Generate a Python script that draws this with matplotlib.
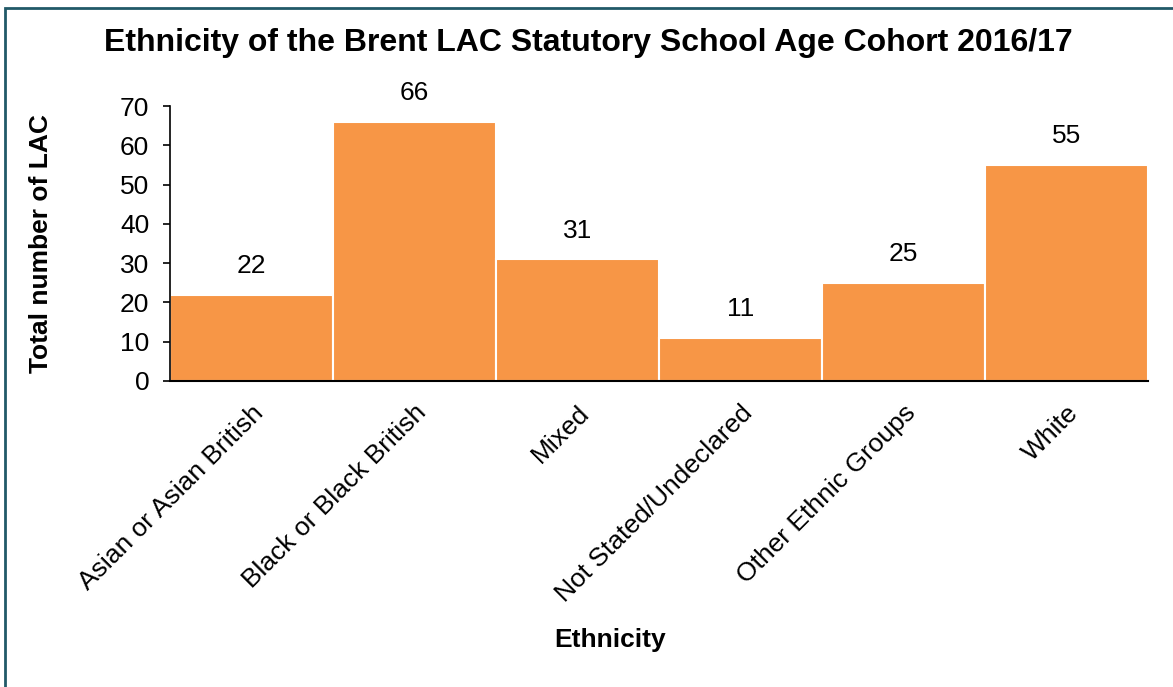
import matplotlib.pyplot as plt
from matplotlib.patches import Rectangle

plt.rcParams['font.family'] = ['Liberation Sans', 'DejaVu Sans']

categories = ["Asian or Asian British", "Black or Black British", "Mixed",
              "Not Stated/Undeclared", "Other Ethnic Groups", "White"]
counts = [22, 66, 31, 11, 25, 55]

fig = plt.figure(figsize=(11.73, 6.87), dpi=100)
ax = fig.add_axes([170 / 1173, 1 - 381 / 687, (1148 - 170) / 1173, (381 - 106) / 687])

x = range(len(categories))
bars = ax.bar(x, counts, width=1.0, color="#F79646", edgecolor="white", linewidth=1.5)
for b, v in zip(bars, counts):
    ax.annotate(str(v), (b.get_x() + b.get_width() / 2, v), xytext=(0, 20.5),
                textcoords="offset points", ha="center", va="center", fontsize=19)

ax.set_xlim(-0.5, len(categories) - 0.5)
ax.set_ylim(0, 70)
ax.set_yticks(range(0, 71, 10))
ax.tick_params(axis="y", labelsize=19, length=5, width=1.2, pad=10)
ax.set_xticks(list(x))
ax.set_xticklabels(categories, rotation=45, ha="right", rotation_mode="anchor", fontsize=19)
ax.tick_params(axis="x", length=0, pad=14)
for s in ["top", "right"]:
    ax.spines[s].set_visible(False)
ax.spines["left"].set_linewidth(1.2)
ax.spines["bottom"].set_linewidth(1.5)

ax.set_ylabel("Total number of LAC", fontsize=19, fontweight="bold", labelpad=48)
ax.set_xlabel("Ethnicity", fontsize=19, fontweight="bold")
ax.xaxis.set_label_coords(0.45, -0.942)
ax.xaxis.label.set_va("center")
fig.text(588 / 1173, 1 - 43 / 687, "Ethnicity of the Brent LAC Statutory School Age Cohort 2016/17",
         ha="center", va="center", fontsize=23, fontweight="bold")

fig.patches.append(Rectangle((5 / 1173, -0.1), 1.2, 1.1 - 8 / 687, transform=fig.transFigure,
                             fill=False, edgecolor="#215968", linewidth=2))

fig.savefig("out.png", dpi=100)
